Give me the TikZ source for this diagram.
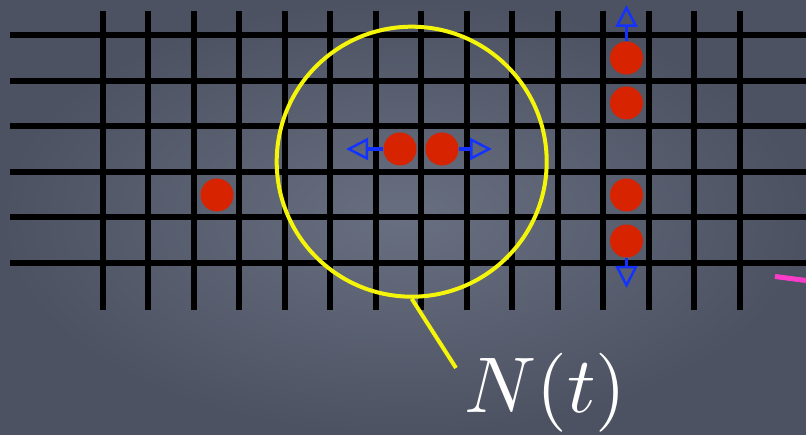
\documentclass[tikz,border=0pt]{standalone}
\usetikzlibrary{arrows.meta}
\definecolor{bgin}{RGB}{104,111,128}
\definecolor{bgout}{RGB}{76,82,98}
\definecolor{dotred}{RGB}{215,35,0}
\definecolor{arrblue}{RGB}{20,50,255}
\definecolor{ylw}{RGB}{245,245,10}
\definecolor{pnk}{RGB}{250,60,200}
\tikzset{
  gridline/.style={black,line width=6pt},
  particle/.style={circle,fill=dotred,minimum size=33pt,inner sep=0pt},
  hop/.style={arrblue,line width=3.5pt,-{Triangle[open,length=22pt,width=22pt,line width=2.5pt]}},
  ring/.style={circle,draw=ylw,line width=4pt,minimum size=270pt,inner sep=0pt},
}
\begin{document}
\begin{tikzpicture}[x=1pt,y=-1pt]
\useasboundingbox (0,0) rectangle (806,435);
\shade[inner color=bgin,outer color=bgout] (0,0) rectangle (806,435);
% grid
\foreach \y in {35,80.7,126,171.7,217.5,262.8}
  \draw[gridline] (10,\y) -- (806,\y);
\foreach \i in {0,...,14}
  \draw[gridline] ({102.5+45.5*\i},11) -- ({102.5+45.5*\i},310);
% particles
\node[particle] (p1) at (400,149) {};
\node[particle] (p2) at (442,149) {};
\node[particle] (p3) at (217,195) {};
\node[particle] (p4) at (626.5,58) {};
\node[particle] (p5) at (626.5,103) {};
\node[particle] (p6) at (626.5,195) {};
\node[particle] (p7) at (626.5,241) {};
% arrows
\coordinate (tL) at (346,149);
\coordinate (tR) at (492,149);
\coordinate (tU) at (626.5,5);
\coordinate (tD) at (626.5,288);
\draw[hop] (p1.west) -- (tL);
\draw[hop] (p2.east) -- (tR);
\draw[hop] (p4.north) -- (tU);
\draw[hop] (p7.south) -- (tD);
% neighbourhood circle and label
\node[ring] (nb) at (411.7,161.7) {};
\node[anchor=base west,inner sep=0pt,text=white,scale=7.9,transform shape] (lbl) at (463,413) {$N(t)$};
\coordinate (tail) at (456,368);
\draw[ylw,line width=4pt] (nb.south) -- (tail);
% pink stroke at right edge
\coordinate (pkA) at (775,276.5);
\coordinate (pkB) at (806,280.5);
\draw[pnk,line width=5pt] (pkA) -- (pkB);
\end{tikzpicture}
\end{document}
